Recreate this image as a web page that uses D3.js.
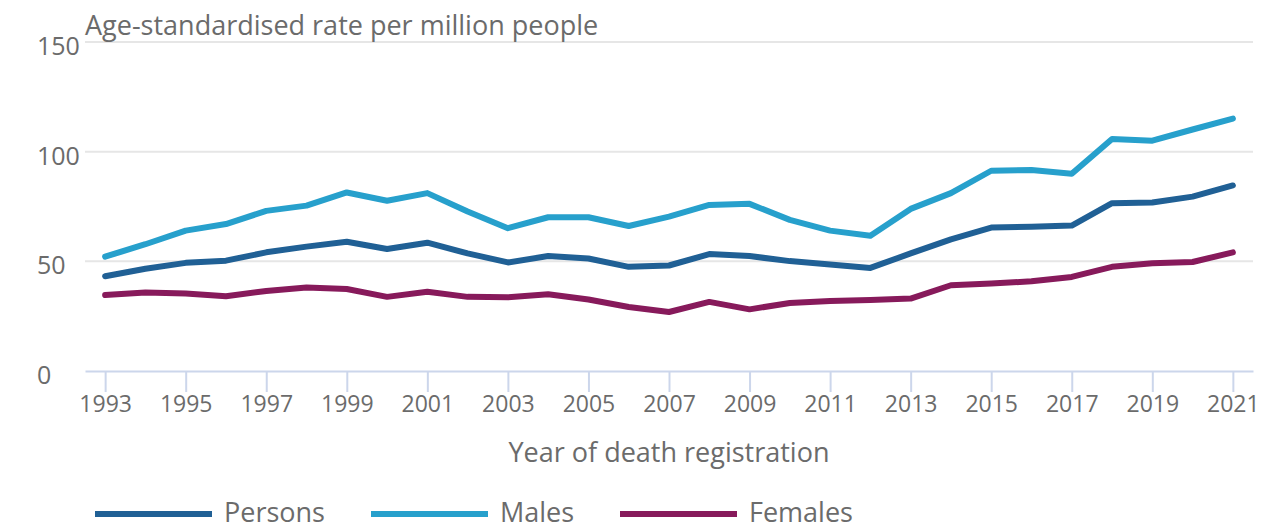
<!DOCTYPE html>
<html>
<head>
<meta charset="utf-8">
<script src="https://cdn.jsdelivr.net/npm/d3@7"></script>
<style>
  html, body { margin: 0; padding: 0; background: #fff; }
  svg { display: block; font-family: "Open Sans", sans-serif; }
</style>
</head>
<body>
<div id="chart"></div>
<script>
// values
const years = d3.range(1993, 2022);
const persons = [43.2, 46.6, 49.3, 50.3, 54.1, 56.7, 58.9, 55.6, 58.5, 53.6,
  49.5, 52.4, 51.3, 47.5, 48.1, 53.3, 52.4, 50.1, 48.6, 47.0,
  53.6, 60.0, 65.4, 65.8, 66.3, 76.5, 76.8, 79.5, 84.6];
const males = [52.1, 57.8, 64.0, 67.0, 73.0, 75.4, 81.4, 77.6, 81.1, 72.7,
  65.1, 70.1, 70.1, 66.1, 70.4, 75.7, 76.2, 68.9, 64.0, 61.7,
  73.9, 81.1, 91.3, 91.6, 89.9, 105.8, 105.0, 110.1, 115.1];
const females = [34.6, 35.8, 35.3, 34.1, 36.5, 38.1, 37.4, 33.8, 36.1, 33.8,
  33.6, 35.0, 32.6, 29.2, 26.9, 31.5, 28.1, 31.0, 31.9, 32.4,
  33.0, 39.1, 39.9, 40.9, 42.9, 47.5, 49.1, 49.7, 54.1];
const seriesNames = ["Persons", "Males", "Females"];
const seriesColors = ["#206095", "#27a0cc", "#871a5b"];
const yTicks = [0, 50, 100, 150];
const xTicks = d3.range(1993, 2022, 2);

const width = 1266, height = 526;
const margin = { top: 42, right: 13, bottom: 155, left: 85 };
const textColor = "#6b6b6b";

const svg = d3.select("#chart").append("svg")
  .attr("width", width)
  .attr("height", height);

const x = d3.scaleLinear()
  .domain([1992.5, 2021.5])
  .range([margin.left, width - margin.right]);
const y = d3.scaleLinear()
  .domain([0, 150])
  .range([height - margin.bottom, margin.top]);

// gridlines
svg.append("g")
  .selectAll("line")
  .data(yTicks.filter(d => d > 0))
  .join("line")
  .attr("x1", margin.left)
  .attr("x2", width - margin.right)
  .attr("y1", d => y(d))
  .attr("y2", d => y(d))
  .attr("stroke", "#e6e6e6")
  .attr("stroke-width", 2);

// y labels, left aligned
svg.append("g")
  .selectAll("text")
  .data(yTicks)
  .join("text")
  .attr("x", 37)
  .attr("y", d => y(d) + 13)
  .attr("fill", textColor)
  .style("font-size", "25px")
  .text(d => d);

// x axis
const xAxis = svg.append("g")
  .attr("transform", "translate(0," + y(0) + ")")
  .call(d3.axisBottom(x).tickValues(xTicks).tickFormat(d3.format("d"))
    .tickSize(21).tickSizeOuter(0).tickPadding(4));
xAxis.select(".domain")
  .attr("stroke", "#ccd6eb")
  .attr("stroke-width", 2);
xAxis.selectAll(".tick line")
  .attr("stroke", "#ccd6eb")
  .attr("stroke-width", 2);
xAxis.selectAll(".tick text")
  .attr("fill", textColor)
  .style("font-size", "23px")
  .style("font-family", "Open Sans, sans-serif");

// titles
svg.append("text")
  .attr("x", margin.left)
  .attr("y", 35)
  .attr("fill", textColor)
  .style("font-size", "27px")
  .text("Age-standardised rate per million people");

svg.append("text")
  .attr("x", (margin.left + width - margin.right) / 2)
  .attr("y", 462)
  .attr("text-anchor", "middle")
  .attr("fill", textColor)
  .style("font-size", "27px")
  .text("Year of death registration");

// series lines
const line = d3.line()
  .x((d, i) => x(years[i]))
  .y(d => y(d));

const allSeries = [persons, males, females];
svg.append("g")
  .selectAll("path")
  .data(allSeries)
  .join("path")
  .attr("d", line)
  .attr("fill", "none")
  .attr("stroke", (d, i) => seriesColors[i])
  .attr("stroke-width", 6)
  .attr("stroke-linejoin", "round")
  .attr("stroke-linecap", "round");

// legend
const legendX = [95, 371, 620];
const legend = svg.append("g")
  .selectAll("g")
  .data(seriesNames)
  .join("g")
  .attr("transform", (d, i) => "translate(" + legendX[i] + ",514)");
legend.append("line")
  .attr("x1", 0)
  .attr("x2", 117)
  .attr("stroke", (d, i) => seriesColors[i])
  .attr("stroke-width", 6);
legend.append("text")
  .attr("x", 129)
  .attr("y", 8)
  .attr("fill", textColor)
  .style("font-size", "27px")
  .text(d => d);
</script>
</body>
</html>
